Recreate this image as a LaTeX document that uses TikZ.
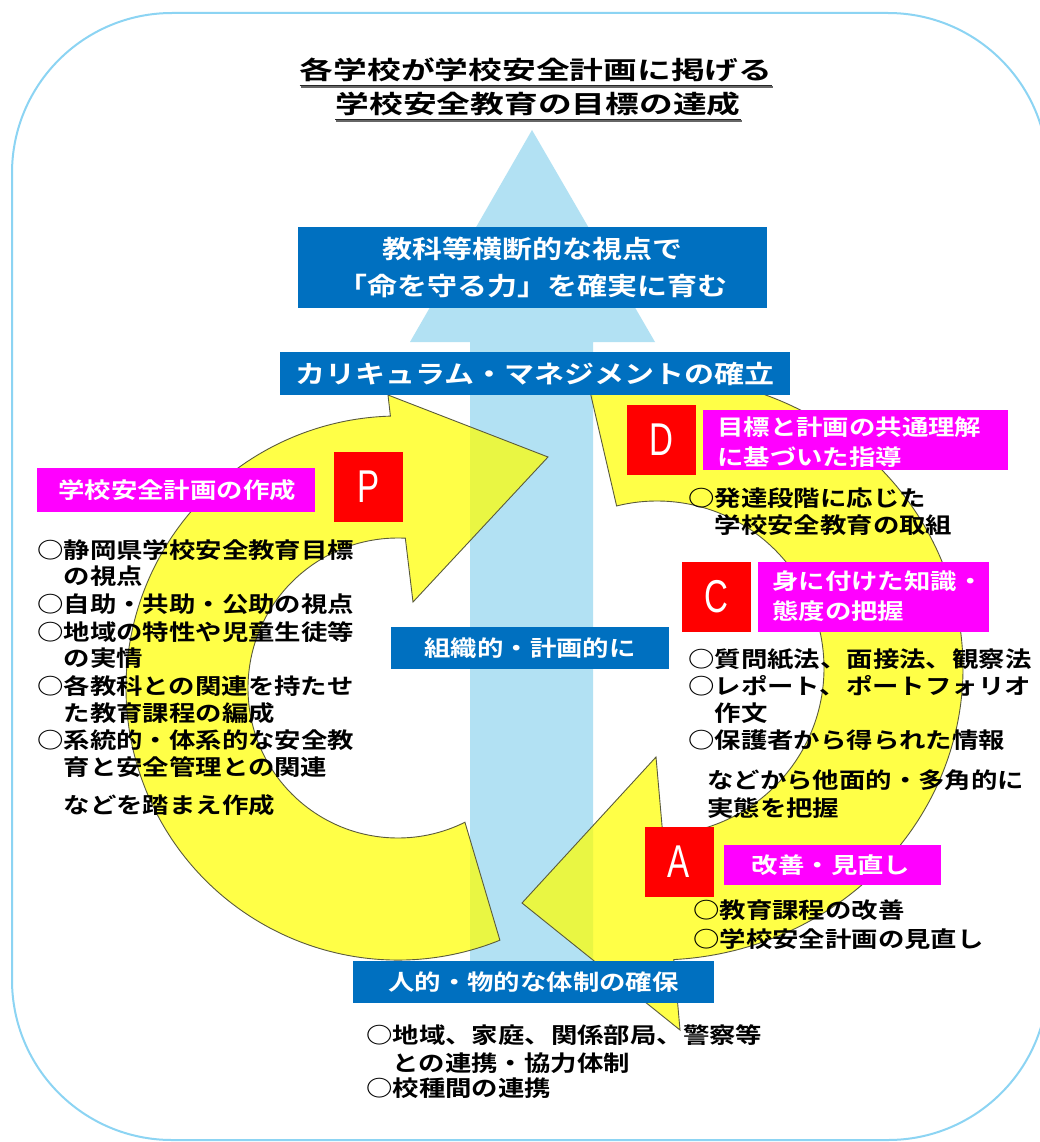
\documentclass[tikz,border=0pt]{standalone}
\usepackage{fontspec}
\usetikzlibrary{calc}
\newfontfamily\jpb{Noto Sans CJK JP Bold}[FakeStretch=1.2]
\newfontfamily\jpt{Noto Sans CJK JP Bold}[FakeStretch=1.35]
\newfontfamily\latc{Liberation Sans}[FakeStretch=0.72]
\definecolor{boxblue}{RGB}{0,112,192}
\definecolor{magbox}{RGB}{255,0,255}
\definecolor{redb}{RGB}{255,0,0}
\definecolor{skyarrow}{RGB}{178,225,243}
\definecolor{framecol}{RGB}{140,212,243}
\definecolor{ringyel}{RGB}{255,255,0}
\definecolor{ringline}{RGB}{90,90,60}
\begin{document}
\begin{tikzpicture}[x=1pt,y=-1pt,
  bluebox/.style={fill=boxblue, inner sep=0pt, text=white, align=center},
  magentabox/.style={fill=magbox, inner sep=0pt},
  redbox/.style={fill=redb, inner sep=0pt, minimum width=69pt, minimum height=70pt, text=white, font=\latc\fontsize{46}{46}\selectfont},
  lt/.style={anchor=west, inner sep=0pt, font=\jpb\fontsize{22}{27}\selectfont},
  wt/.style={text=white, inner sep=0pt, align=left, font=\jpb\fontsize{22}{30}\selectfont},
  ring/.style={fill=ringyel, fill opacity=0.72, draw=ringline, line width=0.9pt, line join=miter},
  titletext/.style={inner sep=0pt, font=\jpt\fontsize{25}{30}\selectfont}
]
\useasboundingbox (0,0) rectangle (1040,1142);
\clip (0,0) rectangle (1040,1142);
\fill[white] (0,0) rectangle (1040,1142);

% outer frame
\draw[framecol, line width=2pt, rounded corners=160pt] (12,13) rectangle (1048,1140);

% title
\node[titletext] (t1) at (536,70) {各学校が学校安全計画に掲げる};
\node[titletext] (t2) at (538,104) {学校安全教育の目標の達成};
\draw[black!60, line width=1.5pt] ($(t1.south west)+(1,5)$) -- ($(t1.south east)+(1,5)$);
\draw[black!85, line width=1.2pt] ($(t1.south west)+(0,3)$) -- ($(t1.south east)+(0,3)$);
\draw[black!60, line width=1.5pt] ($(t2.south west)+(1,5)$) -- ($(t2.south east)+(1,5)$);
\draw[black!85, line width=1.2pt] ($(t2.south west)+(0,3)$) -- ($(t2.south east)+(0,3)$);

% big light blue arrow
\fill[skyarrow] (532,130) -- (655,342) -- (593,342) -- (593,990) -- (470,990) -- (470,342) -- (410,342) -- cycle;

% left ring (P)
\coordinate (cl) at (398,688);
\path[ring] ($(cl)+(68:272)$) arc[start angle=68, end angle=268.4, radius=272]
  -- (388,395) -- (548,457) -- (413,602)
  -- ($(cl)+(272.8:150)$) arc[start angle=272.8, end angle=63.5, radius=150] -- cycle;

% right ring (D-C-A)
\coordinate (cr) at (657,668);
\path[ring] ($(cr)+(257:306 and 292)$) arc[start angle=257, end angle=446.85, x radius=306, y radius=292]
  -- (680,1030) -- (522,903) -- (656,757)
  -- ($(cr)+(448:167)$) arc[start angle=448, end angle=256, radius=167] -- cycle;

% blue boxes
\node[bluebox, minimum width=469pt, minimum height=81pt, font=\jpb\fontsize{25}{37}\selectfont] (goal) at (532.5,267.5) {教科等横断的な視点で\\「命を守る力」を確実に育む};
\node[bluebox, minimum width=510pt, minimum height=43pt, font=\jpb\fontsize{25}{30}\selectfont] (cm) at (535,373.5) {カリキュラム・マネジメントの確立};
\node[bluebox, minimum width=278pt, minimum height=42pt, font=\jpb\fontsize{22}{27}\selectfont] (org) at (530,648) {組織的・計画的に};
\node[bluebox, minimum width=361pt, minimum height=42pt, font=\jpb\fontsize{22}{27}\selectfont] (hum) at (533.5,982) {人的・物的な体制の確保};

% P
\node[magentabox, minimum width=278pt, minimum height=44pt] (pbox) at (176,490) {};
\node[wt, anchor=west] (ptxt) at (58,490) {学校安全計画の作成};
\node[redbox] (pl) at (368.5,486.5) {P};
\node[lt] (p1) at (37,550) {○静岡県学校安全教育目標};
\node[lt] (p2) at (37,576) {　の視点};
\node[lt] (p3) at (37,604) {○自助・共助・公助の視点};
\node[lt] (p4) at (37,632) {○地域の特性や児童生徒等};
\node[lt] (p5) at (37,658) {　の実情};
\node[lt] (p6) at (37,686) {○各教科との関連を持たせ};
\node[lt] (p7) at (37,713) {　た教育課程の編成};
\node[lt] (p8) at (37,740) {○系統的・体系的な安全教};
\node[lt] (p9) at (37,767) {　育と安全管理との関連};
\node[lt] (p10) at (37,805) {　などを踏まえ作成};

% D
\node[redbox] (dl) at (661,440) {D};
\node[magentabox, minimum width=305pt, minimum height=60pt] (dbox) at (855.5,440) {};
\node[wt, anchor=west] (dtxt) at (717,442) {目標と計画の共通理解\\に基づいた指導};
\node[lt] (d1) at (688,498) {○発達段階に応じた};
\node[lt] (d2) at (688,525) {　学校安全教育の取組};

% C
\node[redbox] (cle) at (716,597) {C};
\node[magentabox, minimum width=231pt, minimum height=70pt] (cbox) at (873.5,597) {};
\node[wt, anchor=west] (ctxt) at (772,596) {身に付けた知識・\\態度の把握};
\node[lt] (c1) at (688,659) {○質問紙法、面接法、観察法};
\node[lt] (c2) at (688,686) {○レポート、ポートフォリオ};
\node[lt] (c3) at (688,713) {　作文};
\node[lt] (c4) at (688,740) {○保護者から得られた情報};
\node[lt] (c5) at (707,780) {などから他面的・多角的に};
\node[lt] (c6) at (707,808) {実態を把握};

% A
\node[redbox] (al) at (679,861.5) {A};
\node[magentabox, minimum width=217pt, minimum height=40pt] (abox) at (832.5,865) {};
\node[wt] (atxt) at (831,865) {改善・見直し};
\node[lt] (a1) at (693,910) {○教育課程の改善};
\node[lt] (a2) at (693,939) {○学校安全計画の見直し};

% bottom list
\node[lt] (b1) at (366,1035) {○地域、家庭、関係部局、警察等};
\node[lt] (b2) at (366,1063) {　との連携・協力体制};
\node[lt] (b3) at (366,1088) {○校種間の連携};
\end{tikzpicture}
\end{document}
